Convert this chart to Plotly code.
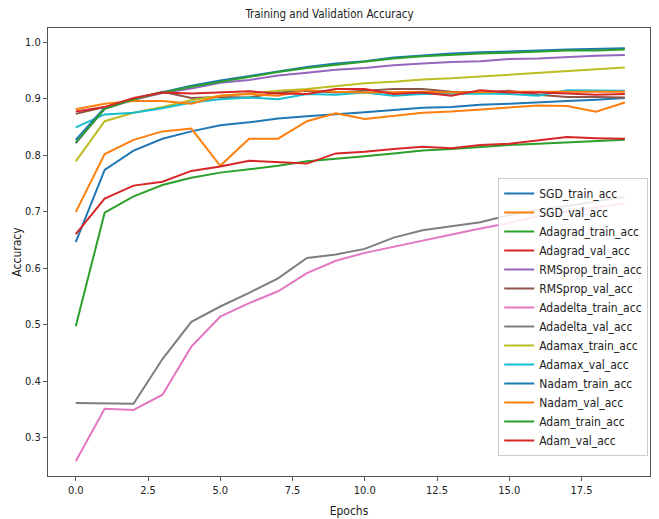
import plotly.graph_objects as go

epochs = list(range(20))

sgd_train = [0.646, 0.774, 0.808, 0.829, 0.842, 0.853, 0.858, 0.865, 0.869, 0.872,
             0.876, 0.880, 0.884, 0.885, 0.889, 0.891, 0.894, 0.896, 0.898, 0.901]
sgd_val = [0.699, 0.802, 0.827, 0.842, 0.847, 0.781, 0.829, 0.829, 0.860, 0.874,
           0.864, 0.869, 0.875, 0.877, 0.881, 0.884, 0.888, 0.887, 0.877, 0.893]
adagrad_train = [0.497, 0.698, 0.727, 0.747, 0.760, 0.769, 0.775, 0.781, 0.789, 0.793,
                 0.798, 0.803, 0.808, 0.811, 0.815, 0.818, 0.820, 0.822, 0.825, 0.827]
adagrad_val = [0.660, 0.723, 0.746, 0.753, 0.772, 0.780, 0.790, 0.787, 0.785, 0.803,
               0.806, 0.811, 0.815, 0.812, 0.818, 0.820, 0.826, 0.832, 0.830, 0.829]
rmsprop_train = [0.821, 0.882, 0.898, 0.910, 0.918, 0.928, 0.933, 0.941, 0.946, 0.951,
                 0.954, 0.959, 0.962, 0.965, 0.966, 0.970, 0.971, 0.974, 0.976, 0.977]
rmsprop_val = [0.873, 0.885, 0.899, 0.912, 0.901, 0.903, 0.902, 0.911, 0.914, 0.911,
               0.914, 0.917, 0.917, 0.912, 0.911, 0.914, 0.907, 0.903, 0.903, 0.902]
adadelta_train = [0.258, 0.351, 0.349, 0.376, 0.461, 0.514, 0.538, 0.559, 0.591, 0.613,
                  0.627, 0.638, 0.649, 0.660, 0.670, 0.680, 0.692, 0.700, 0.708, 0.715]
adadelta_val = [0.361, 0.361, 0.360, 0.439, 0.505, 0.532, 0.556, 0.582, 0.618, 0.624,
                0.634, 0.654, 0.667, 0.674, 0.681, 0.694, 0.703, 0.710, 0.718, 0.726]
adamax_train = [0.789, 0.860, 0.875, 0.885, 0.897, 0.905, 0.909, 0.914, 0.917, 0.922,
                0.927, 0.930, 0.934, 0.936, 0.939, 0.943, 0.946, 0.948, 0.952, 0.955]
adamax_val = [0.849, 0.872, 0.875, 0.883, 0.893, 0.899, 0.902, 0.899, 0.908, 0.907,
              0.911, 0.905, 0.908, 0.909, 0.909, 0.908, 0.905, 0.915, 0.915, 0.914]
nadam_train = [0.827, 0.884, 0.900, 0.912, 0.923, 0.932, 0.940, 0.949, 0.956, 0.962,
               0.966, 0.973, 0.977, 0.980, 0.982, 0.983, 0.985, 0.987, 0.988, 0.989]
nadam_val = [0.881, 0.891, 0.896, 0.896, 0.891, 0.905, 0.908, 0.905, 0.915, 0.912,
             0.911, 0.912, 0.912, 0.911, 0.912, 0.912, 0.912, 0.912, 0.911, 0.912]
adam_train = [0.822, 0.882, 0.899, 0.911, 0.921, 0.930, 0.938, 0.947, 0.954, 0.960,
              0.965, 0.971, 0.975, 0.978, 0.980, 0.981, 0.983, 0.985, 0.985, 0.987]
adam_val = [0.877, 0.885, 0.901, 0.911, 0.909, 0.911, 0.913, 0.909, 0.908, 0.917,
            0.917, 0.908, 0.911, 0.905, 0.915, 0.911, 0.911, 0.909, 0.907, 0.908]

series_names = ["SGD_train_acc", "SGD_val_acc", "Adagrad_train_acc", "Adagrad_val_acc",
                "RMSprop_train_acc", "RMSprop_val_acc", "Adadelta_train_acc", "Adadelta_val_acc",
                "Adamax_train_acc", "Adamax_val_acc", "Nadam_train_acc", "Nadam_val_acc",
                "Adam_train_acc", "Adam_val_acc"]
series_values = [sgd_train, sgd_val, adagrad_train, adagrad_val, rmsprop_train, rmsprop_val,
                 adadelta_train, adadelta_val, adamax_train, adamax_val, nadam_train, nadam_val,
                 adam_train, adam_val]
colors = ['#1f77b4', '#ff7f0e', '#2ca02c', '#d62728', '#9467bd', '#8c564b', '#e377c2',
          '#7f7f7f', '#bcbd22', '#17becf', '#1f77b4', '#ff7f0e', '#2ca02c', '#d62728']

x_tickvals = [0, 2.5, 5, 7.5, 10, 12.5, 15, 17.5]
x_ticktext = ["0.0", "2.5", "5.0", "7.5", "10.0", "12.5", "15.0", "17.5"]
y_tickvals = [0.3, 0.4, 0.5, 0.6, 0.7, 0.8, 0.9, 1.0]
y_ticktext = ["0.3", "0.4", "0.5", "0.6", "0.7", "0.8", "0.9", "1.0"]

fig = go.Figure()
for name, vals, c in zip(series_names, series_values, colors):
    fig.add_trace(go.Scatter(x=epochs, y=vals, mode="lines", name=name,
                             line=dict(color=c, width=2)))

font_family = "Liberation Sans Narrow, DejaVu Sans Condensed, Liberation Sans, sans-serif"
fig.update_layout(
    width=659, height=519,
    margin=dict(l=48, r=9, t=28, b=43),
    paper_bgcolor="white", plot_bgcolor="white",
    font=dict(family=font_family, size=11, color="#222"),
    title=dict(text="Training and Validation Accuracy", x=0.5, xanchor="center",
               y=0.973, yanchor="middle", font=dict(size=11.5, color="#222")),
    showlegend=True,
    legend=dict(x=0.997, y=0.665, xanchor="right", yanchor="top",
                bgcolor="rgba(255,255,255,0.85)", bordercolor="#cccccc", borderwidth=1,
                font=dict(size=12, color="#222"), tracegroupgap=0, itemwidth=30),
    xaxis=dict(range=[-0.96, 19.87], tickvals=x_tickvals, ticktext=x_ticktext,
               showgrid=False, zeroline=False, showline=True, mirror=True,
               linecolor="#555", linewidth=1.2, ticks="outside", ticklen=4,
               tickcolor="#555", automargin=False,
               title=dict(text="Epochs", font=dict(size=12), standoff=10)),
    yaxis=dict(range=[0.232, 1.025], tickvals=y_tickvals, ticktext=y_ticktext,
               showgrid=False, zeroline=False, showline=True, mirror=True,
               linecolor="#555", linewidth=1.2, ticks="outside", ticklen=4,
               tickcolor="#555", automargin=False,
               title=dict(text="Accuracy", font=dict(size=12), standoff=0)),
)

fig.write_html("out.html", config={"displayModeBar": False},
               post_script="document.body.style.margin='0';document.body.style.padding='0';")
